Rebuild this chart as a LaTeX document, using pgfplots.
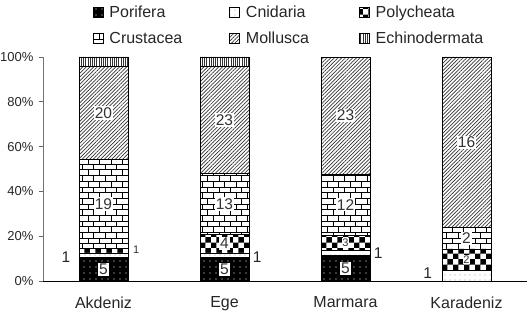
\documentclass[border=0pt]{standalone}
\usepackage{pgfplots}
\pgfplotsset{compat=1.18}
\usepackage{pgfplotstable}
\usetikzlibrary{patterns,patterns.meta,calc}
\usepackage{fontspec}
\setmainfont{Liberation Sans}

\pgfplotstableread{
x Po Cn Pc Cr Mo Ec T
0 5 1 1 19 20 2 48
1 5 1 4 13 23 2 48
2 5 1 3 12 23 0 44
3 0 1 2 2 16 0 21
}\data

\tikzset{lblbig/.style={font=\fontsize{15.5}{18}\selectfont, text=black!80, fill=white, inner sep=1.2pt},
         lblout/.style={font=\fontsize{15.5}{18}\selectfont, text=black!85, inner sep=0pt},
         lblsmall/.style={font=\fontsize{11}{13}\selectfont, text=black!80, inner sep=0.8pt}}

\begin{document}
\begin{tikzpicture}
\begin{axis}[name=ax, scale only axis, width=484pt, height=224pt,
  ybar stacked, bar width=49pt,
  xmin=-0.5, xmax=3.5, ymin=0, ymax=100,
  axis lines*=left,
  x axis line style={black, line width=0.6pt},
  y axis line style={black!55, line width=0.6pt},
  xtick={0,1,2,3},
  xticklabels={Akdeniz,Ege,Marmara,Karadeniz},
  major x tick style={draw=none},
  extra x ticks={0.5,1.5,2.5,3.5},
  extra x tick labels={},
  extra x tick style={major tick length=5pt, tick align=outside, tick style={black!60, line width=0.6pt}},
  ytick={0,20,...,100},
  yticklabel={\pgfmathprintnumber{\tick}\%},
  /pgf/number format/assume math mode=true,
  tick align=outside, major tick length=4pt,
  ytick style={black!60, line width=0.6pt},
  yticklabel style={font=\fontsize{13}{15}\selectfont, text=black!85, xshift=-2pt},
  xticklabel style={font=\fontsize{16}{19}\selectfont, text=black!85, yshift=-8pt},
  legend columns=3,
  legend cell align=left,
  legend style={draw=none, at={(0.103,1.237)}, anchor=north west,
    inner sep=0pt, outer sep=0pt,
    font=\fontsize{16}{19}\selectfont, text=black!85,
    row sep=9pt,
    /tikz/every odd column/.append style={column sep=4pt},
    /tikz/column 2/.style={column sep=45pt},
    /tikz/column 4/.style={column sep=48pt}},
  legend image code/.code={\draw[#1, line width=0.6pt] (0pt,-5pt) rectangle (10pt,5pt);},
  clip=false,
  every axis plot/.append style={draw=black, line width=0.8pt},
  after end axis/.code={
    % Akdeniz
    \node[lblbig] at (axis cs:0,5.2) {5};
    \node[lblout] at (axis cs:-0.31,10.7) {1};
    \node[lblsmall] at (axis cs:0.27,13.8) {1};
    \node[lblbig] at (axis cs:0,34.4) {19};
    \node[lblbig] at (axis cs:0,75.0) {20};
    % Ege
    \node[lblbig] at (axis cs:1,5.2) {5};
    \node[lblout] at (axis cs:1.27,10.7) {1};
    \node[lblbig] at (axis cs:1,16.7) {4};
    \node[lblbig] at (axis cs:1,34.4) {13};
    \node[lblbig] at (axis cs:1,71.9) {23};
    % Marmara
    \node[lblbig] at (axis cs:2,5.68) {5};
    \node[lblout] at (axis cs:2.27,12.5) {1};
    \node[lblsmall, fill=white] at (axis cs:2,17.0) {3};
    \node[lblbig] at (axis cs:2,34.1) {12};
    \node[lblbig] at (axis cs:2,73.9) {23};
    % Karadeniz
    \node[lblout] at (axis cs:2.68,3.6) {1};
    \node[lblsmall, fill=white] at (axis cs:3,9.5) {2};
    \node[lblbig] at (axis cs:3,19.0) {2};
    \node[lblbig] at (axis cs:3,61.9) {16};
  },
]
\addplot[preaction={fill=black}, pattern={Dots[distance=6pt,radius=0.6pt]}, pattern color=white]
  table[x=x, y expr=\thisrow{Po}/\thisrow{T}*100]{\data};
\addplot[fill=white, postaction={pattern={Dots[distance=5pt,radius=0.45pt]}, pattern color=black}]
  table[x=x, y expr=\thisrow{Cn}/\thisrow{T}*100]{\data};
\addplot[preaction={fill=white}, pattern=checkerboard, pattern color=black]
  table[x=x, y expr=\thisrow{Pc}/\thisrow{T}*100]{\data};
\addplot[preaction={fill=white}, pattern=bricks, pattern color=black]
  table[x=x, y expr=\thisrow{Cr}/\thisrow{T}*100]{\data};
\addplot[preaction={fill=white}, pattern={Lines[angle=45,distance=2.6pt,line width=0.7pt]}, pattern color=black!80]
  table[x=x, y expr=\thisrow{Mo}/\thisrow{T}*100]{\data};
\addplot[preaction={fill=white}, pattern={Lines[angle=90,distance=2.2pt,line width=0.8pt]}, pattern color=black!80]
  table[x=x, y expr=\thisrow{Ec}/\thisrow{T}*100]{\data};
\legend{Porifera,Cnidaria,Polycheata,Crustacea,Mollusca,Echinodermata}
\end{axis}
\pgfresetboundingbox
\path ($(ax.south west)+(-43pt,-34pt)$) rectangle ($(ax.north east)+(5pt,57pt)$);
\end{tikzpicture}
\end{document}
